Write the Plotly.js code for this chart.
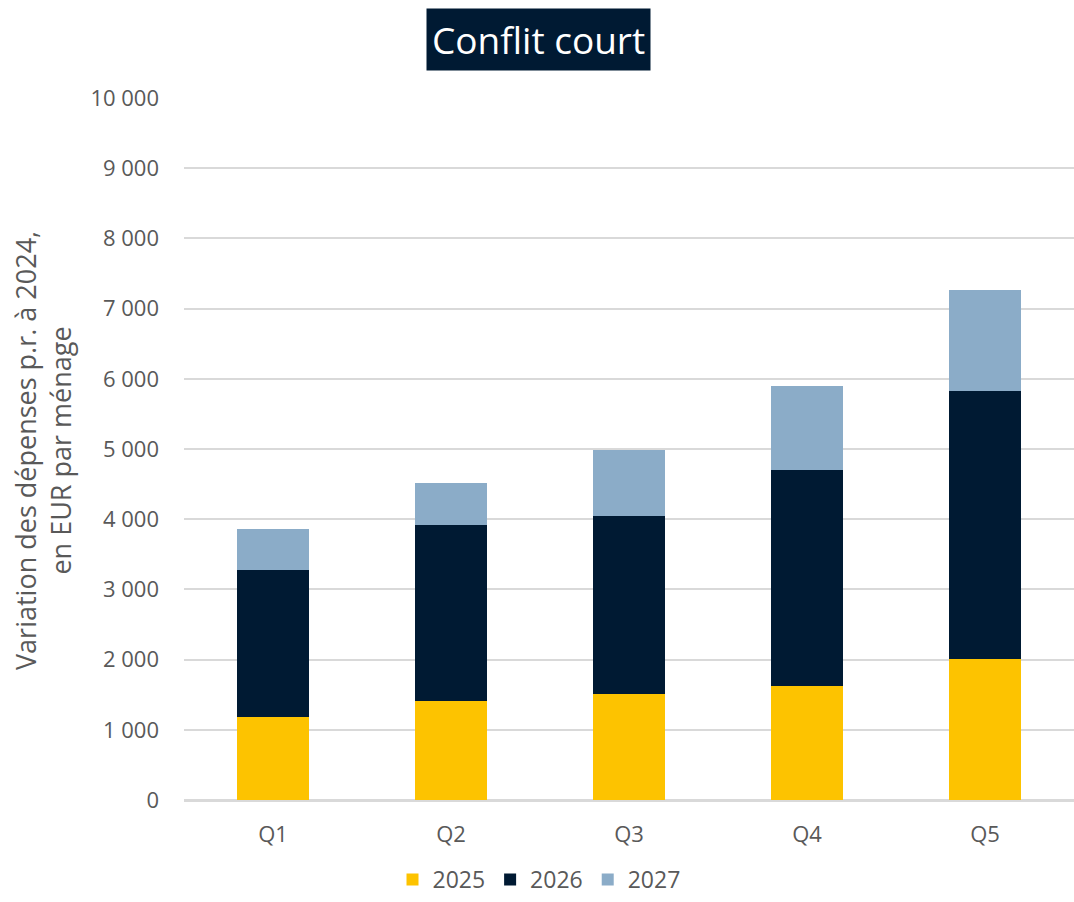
<!DOCTYPE html>
<html>
<head>
<meta charset="utf-8">
<script src="https://cdn.plot.ly/plotly-3.0.1.min.js"></script>
<style>html,body{margin:0;padding:0;background:#fff;}#chart{width:1074px;height:902px;}</style>
</head>
<body>
<div id="chart"></div>
<script>
const categories = ["Q1", "Q2", "Q3", "Q4", "Q5"];
const seriesNames = ["2025", "2026", "2027"];
const values2025 = [1180, 1410, 1510, 1620, 2010];
const values2026 = [2100, 2510, 2540, 3080, 3820];
const values2027 = [580, 600, 940, 1200, 1440];
const colors = ["#FDC300", "#001A33", "#8BACC8"];
const yTicks = [0, 1000, 2000, 3000, 4000, 5000, 6000, 7000, 8000, 9000, 10000];
const yTickLabels = ["0", "1 000", "2 000", "3 000", "4 000", "5 000", "6 000", "7 000", "8 000", "9 000", "10 000"];

const allValues = [values2025, values2026, values2027];
const traces = allValues.map((v, i) => ({
  type: "bar",
  name: seriesNames[i],
  x: categories,
  y: v,
  marker: {color: colors[i], line: {width: 0}},
  hoverinfo: "none"
}));

const layout = {
  width: 1074, height: 902,
  margin: {l: 184, r: 0, t: 98, b: 102, autoexpand: false},
  paper_bgcolor: "#fff", plot_bgcolor: "#fff",
  barmode: "stack",
  bargap: 0.6,
  font: {family: "Open Sans, sans-serif", color: "#595959", size: 22},
  xaxis: {
    showgrid: false, showline: true, linecolor: "#d9d9d9", linewidth: 2,
    ticks: "", tickfont: {size: 22, color: "#595959"}, ticklabelstandoff: 14,
    automargin: false
  },
  yaxis: {
    range: [0, 10000], tickvals: yTicks, ticktext: yTickLabels,
    showgrid: true, gridcolor: "#d9d9d9", gridwidth: 2,
    zeroline: true, zerolinecolor: "#d9d9d9", zerolinewidth: 2,
    showline: false, ticks: "", tickfont: {size: 22, color: "#595959"},
    ticklabelstandoff: 24, automargin: false
  },
  showlegend: true,
  legend: {
    orientation: "h", x: (539 - 184) / 890, xanchor: "center", xref: "paper",
    y: (800 - 901) / 702, yanchor: "bottom",
    font: {size: 23, color: "#595959"}, traceorder: "normal",
    itemwidth: 30, tracegroupgap: 0
  },
  annotations: [
    {
      text: "Conflit court", xref: "paper", yref: "paper",
      x: (538 - 184) / 890, y: 1, yshift: 58.5, xanchor: "center", yanchor: "middle",
      showarrow: false, font: {size: 37, color: "#ffffff", family: "Open Sans, sans-serif"},
      bgcolor: "#001A33", borderpad: 5
    },
    {
      text: "Variation des dépenses p.r. à 2024,<br>en EUR par ménage",
      xref: "paper", yref: "paper", x: 0, xshift: -141, y: (800 - 451) / 702,
      xanchor: "center", yanchor: "middle", textangle: -90, showarrow: false,
      font: {size: 27, color: "#595959", family: "Open Sans, sans-serif"}
    }
  ]
};

Plotly.newPlot("chart", traces, layout, {displayModeBar: false, staticPlot: true});
</script>
</body>
</html>
